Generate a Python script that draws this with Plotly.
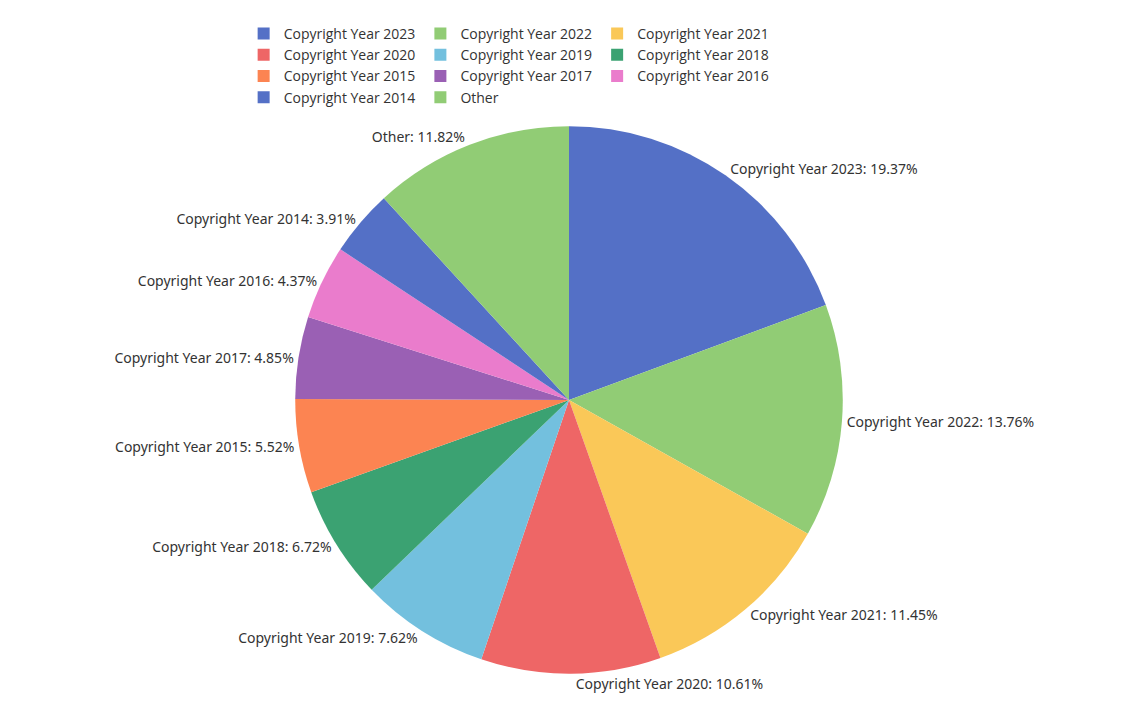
import plotly.graph_objects as go

labels = ["Copyright Year 2023","Copyright Year 2022","Copyright Year 2021","Copyright Year 2020",
          "Copyright Year 2019","Copyright Year 2018","Copyright Year 2015","Copyright Year 2017",
          "Copyright Year 2016","Copyright Year 2014","Other"]
values = [19.37,13.76,11.45,10.61,7.62,6.72,5.52,4.85,4.37,3.91,11.82]
colors = ["#5470c6","#91cc75","#fac858","#ee6666","#73c0de","#3ba272","#fc8452",
          "#9a60b4","#ea7ccc","#5470c6","#91cc75"]

fig = go.Figure(go.Pie(
    labels=labels, values=values, sort=False, direction="clockwise", rotation=0,
    marker=dict(colors=colors, line=dict(color="white", width=0)),
    text=[f"{l}: {v:.2f}%" for l, v in zip(labels, values)],
    textinfo="text", textposition="outside",
    textfont=dict(size=14, color="#333", family="Noto Sans"),
    domain=dict(x=[0.0, 1.0], y=[0.03, 0.84]),
    hoverinfo="label+percent",
))
fig.update_layout(
    width=1133, height=706, paper_bgcolor="white",
    margin=dict(l=20, r=20, t=10, b=20),
    legend=dict(orientation="h", x=0.01, y=1.0, xanchor="left", yanchor="top",
                font=dict(size=14, color="#333", family="Open Sans"),
                traceorder="normal"),
)
fig.write_html("out.html")
